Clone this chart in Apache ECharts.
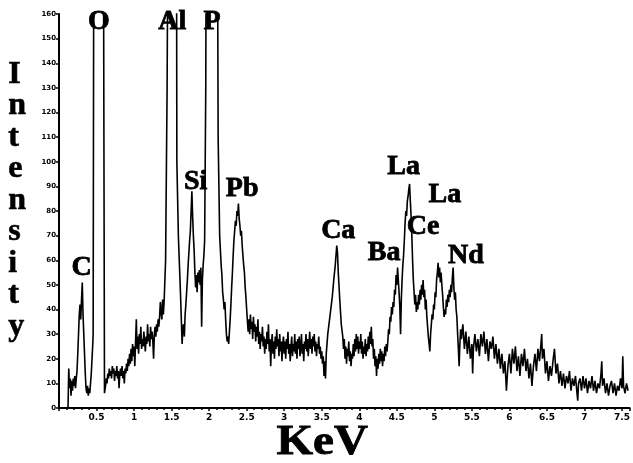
<!DOCTYPE html>
<html>
<head>
<meta charset="UTF-8">
<title>EDS spectrum</title>
<script src="https://cdn.jsdelivr.net/npm/echarts@6/dist/echarts.min.js"></script>
<style>
  html, body { margin: 0; padding: 0; background: #fff; }
</style>
</head>
<body>
<div id="main" style="width: 633px;height:463px;"></div>
<script type="text/javascript">
// spectrum: [energy keV, intensity]
var spectrum = [
  [0.12,0],[0.13,16],[0.14,8],[0.15,12],[0.16,5],[0.17,11],[0.18,7],[0.19,12],[0.20,9],[0.21,13],
  [0.22,8],[0.23,12],[0.24,15],[0.25,22],[0.26,30],[0.27,38],[0.28,42],[0.29,36],[0.30,44],[0.31,51],
  [0.32,38],[0.33,30],[0.34,22],[0.35,14],[0.36,8],[0.37,6],[0.38,9],[0.39,5],[0.40,8],[0.41,6],
  [0.42,10],[0.43,14],[0.44,20],[0.45,26],[0.455,30],
  [0.47,330],[0.53,900],[0.588,250],[0.606,6],
  [0.62,9],[0.63,12],[0.64,10],[0.65,14],[0.66,12],[0.67,16],[0.68,13],[0.69,15],[0.70,12],
  [0.71,17],[0.72,14],[0.73,16],[0.74,11],[0.75,15],[0.76,13],[0.77,17],[0.78,12],[0.79,15],[0.80,8],
  [0.81,14],[0.82,16],[0.83,13],[0.84,17],[0.85,12],[0.86,15],[0.87,10],[0.88,16],[0.89,14],[0.90,18],
  [0.91,15],[0.92,20],[0.93,17],[0.94,22],[0.95,18],[0.96,24],[0.97,19],[0.98,26],[0.99,21],[1.00,25],
  [1.01,17],[1.02,27],[1.03,36],[1.04,24],[1.05,29],[1.06,22],[1.07,30],[1.08,26],[1.09,33],[1.10,24],
  [1.11,28],[1.12,25],[1.13,31],[1.14,27],[1.15,23],[1.16,29],[1.17,26],[1.18,34],[1.19,27],[1.20,30],
  [1.21,25],[1.22,33],[1.23,28],[1.24,31],[1.25,27],[1.26,20],[1.27,30],[1.28,33],[1.29,29],[1.30,34],
  [1.31,31],[1.32,36],[1.33,33],[1.34,37],[1.35,43],[1.36,39],[1.37,36],[1.38,44],[1.39,38],[1.40,43],
  [1.42,60],[1.44,130],[1.46,250],[1.51,900],[1.555,400],[1.57,100],[1.59,70],[1.62,45],[1.64,26],
  [1.65,33],[1.66,34],[1.67,29],[1.68,38],[1.69,42],[1.70,47],[1.71,52],[1.72,58],[1.73,63],[1.74,68],
  [1.75,72],[1.76,80],[1.77,88],[1.78,78],[1.79,70],[1.80,64],[1.81,55],[1.82,49],[1.83,54],[1.84,47],
  [1.85,55],[1.86,51],[1.87,56],[1.88,50],[1.89,57],[1.90,33],[1.91,52],[1.92,58],[1.93,62],[1.94,68],
  [1.955,130],[1.97,300],[2.04,900],[2.10,300],[2.12,110],[2.14,70],[2.15,64],[2.16,58],[2.17,54],
  [2.18,47],[2.19,44],[2.20,40],[2.21,43],[2.22,36],[2.23,30],[2.24,27],[2.25,29],[2.26,26],
  [2.27,31],[2.28,36],[2.29,42],[2.30,49],[2.31,55],[2.32,62],[2.33,68],[2.34,72],[2.35,76],[2.36,74],
  [2.37,80],[2.38,78],[2.39,83],[2.40,77],[2.41,74],[2.42,70],[2.43,72],[2.44,66],[2.45,62],[2.46,58],
  [2.47,55],[2.48,49],[2.49,45],[2.50,40],[2.51,35],[2.52,31],
  [2.53,36],[2.54,30],[2.55,38],[2.56,32],[2.57,35],[2.58,28],[2.59,37],[2.60,31],[2.61,34],[2.62,27],
  [2.63,33],[2.64,29],[2.65,36],[2.66,26],[2.67,31],[2.68,24],[2.69,30],[2.70,27],[2.71,33],[2.72,25],
  [2.73,29],[2.74,22],[2.75,28],[2.76,24],[2.77,31],[2.78,26],[2.79,34],[2.80,23],[2.81,28],[2.82,17],
  [2.83,26],[2.84,30],[2.85,22],[2.86,27],[2.87,20],[2.88,29],[2.89,24],[2.90,32],[2.91,25],[2.92,28],
  [2.93,21],[2.94,30],[2.95,23],[2.96,27],[2.97,19],[2.98,26],[2.99,29],[3.00,22],[3.01,27],[3.02,20],
  [3.03,28],[3.04,24],[3.05,31],[3.06,22],[3.07,26],[3.08,19],[3.09,25],[3.10,29],[3.11,21],[3.12,26],
  [3.13,23],[3.14,30],[3.15,22],[3.16,27],[3.17,20],[3.18,28],[3.19,24],[3.20,29],[3.21,21],[3.22,25],
  [3.23,30],[3.24,22],[3.25,26],[3.26,19],[3.27,27],[3.28,24],[3.29,30],[3.30,23],[3.31,28],[3.32,21],
  [3.33,26],[3.34,31],[3.35,24],[3.36,28],[3.37,22],[3.38,29],[3.39,25],[3.40,30],[3.41,23],[3.42,27],
  [3.43,21],[3.44,26],[3.45,24],[3.46,29],[3.47,22],[3.48,25],[3.49,20],[3.50,23],[3.51,18],[3.52,21],
  [3.53,13],[3.54,19],[3.55,12],[3.56,22],[3.58,30],[3.60,35],[3.62,40],[3.64,45],[3.66,52],[3.68,58],
  [3.70,66],[3.71,63],[3.72,55],[3.74,44],[3.76,34],[3.78,29],
  [3.79,24],[3.80,28],[3.81,20],[3.82,25],[3.83,18],[3.84,24],[3.85,21],[3.86,27],[3.87,19],[3.88,23],
  [3.89,17],[3.90,22],[3.91,20],[3.92,26],[3.93,21],[3.94,28],[3.95,23],[3.96,30],[3.97,24],[3.98,29],
  [3.99,22],[4.00,27],[4.01,24],[4.02,30],[4.03,22],[4.04,27],[4.05,20],[4.06,25],[4.07,22],[4.08,28],
  [4.09,21],[4.10,26],[4.11,23],[4.12,29],[4.13,24],[4.14,31],[4.15,26],[4.16,33],[4.17,25],[4.18,28],
  [4.19,20],[4.20,24],[4.21,17],[4.22,21],[4.23,13],[4.24,20],[4.25,16],[4.26,22],[4.27,18],[4.28,24],
  [4.29,19],[4.30,23],[4.31,17],[4.32,22],[4.33,19],[4.34,25],[4.35,21],[4.36,26],[4.37,23],
  [4.38,27],[4.39,32],[4.40,30],[4.41,37],[4.42,35],[4.43,41],[4.44,38],[4.45,43],[4.46,41],[4.47,48],
  [4.48,46],[4.49,54],[4.50,50],[4.51,57],[4.52,52],[4.53,47],[4.54,41],[4.55,30],[4.56,44],[4.57,52],
  [4.58,58],[4.59,62],[4.60,68],[4.61,75],[4.62,80],[4.63,78],[4.64,84],[4.65,86],[4.66,89],[4.67,91],
  [4.68,84],[4.69,78],[4.70,70],[4.71,60],[4.72,52],[4.73,47],[4.74,42],[4.75,46],[4.76,39],[4.77,43],
  [4.78,40],[4.79,46],[4.80,42],[4.81,48],[4.82,44],[4.83,50],[4.84,46],[4.85,52],[4.86,45],[4.87,48],
  [4.88,40],[4.89,44],[4.90,37],[4.91,33],[4.92,29],[4.93,26],[4.94,23],[4.95,30],[4.96,34],[4.97,38],
  [4.98,36],[4.99,42],[5.00,40],[5.01,47],[5.02,45],[5.03,52],[5.04,55],[5.05,59],[5.06,53],[5.07,57],
  [5.08,51],[5.09,55],[5.10,50],[5.11,46],[5.12,41],[5.13,37],[5.14,40],[5.15,38],[5.16,44],[5.17,41],
  [5.18,46],[5.19,43],[5.20,48],[5.21,45],[5.22,50],[5.23,47],[5.24,53],[5.25,57],[5.26,49],[5.27,44],
  [5.28,47],[5.29,40],[5.30,37],[5.31,30],[5.32,24],[5.33,17],[5.34,26],[5.35,32],
  [5.36,28],[5.38,34],[5.40,24],[5.42,31],[5.44,22],[5.46,29],[5.48,20],[5.50,26],[5.51,14],[5.52,24],
  [5.54,30],[5.56,23],[5.58,28],[5.60,21],[5.62,30],[5.64,25],[5.66,31],[5.68,22],[5.70,28],[5.72,19],
  [5.74,27],[5.76,24],[5.78,29],[5.80,20],[5.82,26],[5.84,18],[5.86,24],[5.88,16],[5.90,22],[5.92,14],
  [5.94,19],[5.96,7],[5.98,17],[6.00,22],[6.02,14],[6.04,24],[6.06,18],[6.08,25],[6.10,15],[6.12,21],
  [6.14,13],[6.16,22],[6.18,17],[6.20,24],[6.22,15],[6.24,20],[6.26,12],[6.28,18],[6.30,9],[6.32,17],
  [6.34,22],[6.36,15],[6.38,24],[6.40,19],[6.42,26],[6.43,30],[6.44,20],[6.46,24],[6.48,14],[6.50,19],
  [6.52,11],[6.54,17],[6.56,13],[6.58,19],[6.60,24],[6.62,14],[6.64,18],[6.66,10],[6.68,15],[6.70,9],
  [6.72,14],[6.74,8],[6.76,13],[6.78,10],[6.80,15],[6.82,7],[6.84,12],[6.86,9],[6.88,13],[6.90,6],
  [6.91,3],[6.92,10],[6.94,12],[6.96,7],[6.98,13],[7.00,8],[7.02,12],[7.04,6],[7.06,11],[7.08,8],
  [7.10,13],[7.12,7],[7.14,11],[7.16,6],[7.18,10],[7.20,8],[7.22,14],[7.23,19],[7.24,9],[7.26,12],
  [7.28,6],[7.30,10],[7.32,5],[7.34,9],[7.36,11],[7.38,6],[7.40,10],[7.42,5],[7.44,9],[7.46,7],
  [7.48,12],[7.50,8],[7.51,21],[7.52,9],[7.54,6],[7.56,10],[7.58,7]
];

// element labels: [name, keV, intensity] (centre of the text)
var peakLabels = [
  ['C', 0.30, 57], ['O', 0.53, 157], ['Al', 1.51, 157], ['P', 2.04, 157],
  ['Si', 1.82, 92], ['Pb', 2.44, 89], ['Ca', 3.72, 72], ['Ba', 4.33, 63],
  ['La', 4.59, 98], ['La', 5.14, 86.5], ['Ce', 4.85, 73.5], ['Nd', 5.42, 62]
];

var xMin = 0, xMax = 7.6, xStep = 0.5;
var yMin = 0, yMax = 160, yStep = 10;

var myChart = echarts.init(document.getElementById('main'));

var option = {
  backgroundColor: '#fff',
  animation: false,
  grid: { left: 59, right: 3, top: 14, bottom: 55 },
  xAxis: {
    type: 'value',
    min: xMin, max: xMax, interval: xStep,
    axisLine: { lineStyle: { color: '#000', width: 2 } },
    axisTick: { show: true, length: 3, lineStyle: { color: '#000', width: 1.5 } },
    minorTick: { show: true, splitNumber: 5, length: 2, lineStyle: { color: '#000', width: 1.5 } },
    splitLine: { show: false },
    axisLabel: {
      color: '#000', fontFamily: 'DejaVu Sans', fontWeight: 'bold', fontSize: 9, margin: 5,
      showMaxLabel: false,
      formatter: function (v) {
        if (v === 0) return '';
        if (Math.abs(v * 2 - Math.round(v * 2)) > 1e-6) return '';
        return String(v);
      }
    }
  },
  yAxis: {
    type: 'value',
    min: yMin, max: yMax, interval: yStep,
    axisLine: { show: true, lineStyle: { color: '#000', width: 2 } },
    axisTick: { show: true, length: 3, lineStyle: { color: '#000', width: 1.5 } },
    splitLine: { show: false },
    axisLabel: {
      color: '#000', fontFamily: 'DejaVu Sans', fontWeight: 'bold', fontSize: 7, margin: 3
    }
  },
  graphic: [
    {
      type: 'text', left: 276, top: 422, scaleX: 1.12,
      style: {
        text: 'KeV', fill: '#000', font: 'bold 42px "Liberation Serif"',
        stroke: '#000', lineWidth: 0.8
      }
    },
    {
      type: 'text', left: 8, top: 58,
      style: {
        text: 'I\nn\nt\ne\nn\ns\ni\nt\ny', fill: '#000', align: 'center',
        font: 'bold 32px "Liberation Serif"', lineHeight: 31.5,
        stroke: '#000', lineWidth: 0.6
      }
    }
  ],
  series: [
    {
      type: 'line',
      data: spectrum,
      symbol: 'none',
      sampling: 'none',
      clip: true,
      lineStyle: { color: '#000', width: 1.6 },
      z: 2
    },
    {
      type: 'scatter',
      data: peakLabels.map(function (p) { return { name: p[0], value: [p[1], p[2]] }; }),
      symbolSize: 0,
      itemStyle: { color: '#000', opacity: 1 },
      label: {
        show: true, position: 'inside', formatter: '{b}', opacity: 1,
        color: '#000', fontFamily: 'Liberation Serif', fontWeight: 'bold', fontSize: 28,
        textBorderColor: '#000', textBorderWidth: 0.8
      },
      z: 3
    }
  ]
};

myChart.setOption(option);
</script>
</body>
</html>
